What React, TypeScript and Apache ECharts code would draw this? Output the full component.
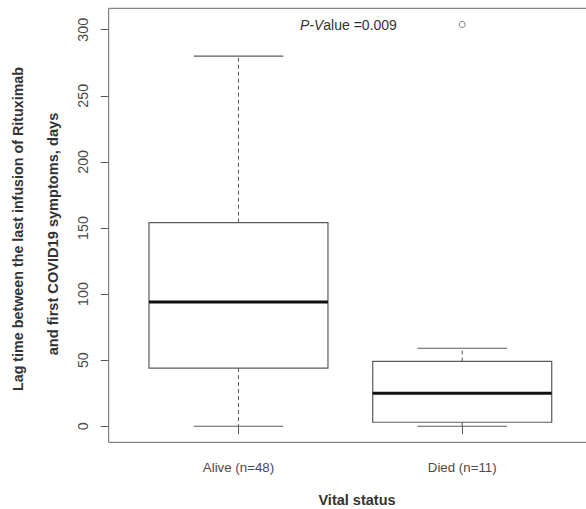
import React, { useEffect, useRef } from "react";
import * as echarts from "echarts";

const categories = ["Alive (n=48)", "Died (n=11)"];
const lowerWhisker = [0, 0];
const lowerQuartile = [44, 3];
const medianValues = [94, 25];
const upperQuartile = [154, 49];
const upperWhisker = [280, 59];
const outlierValues: number[][] = [[], [304]];
const yTicks = [0, 50, 100, 150, 200, 250, 300];
const xTicks = [1, 2];

const FONT = "'Liberation Sans', Arial, sans-serif";
const LINE = "#5a5a5a";
const TEXT = "#4a4a4a";

export default function App() {
  const ref = useRef<HTMLDivElement>(null);
  useEffect(() => {
    document.body.style.margin = "0";
    if (!ref.current) return;
    const chart = echarts.init(ref.current, undefined, { renderer: "svg" });

    const boxData = categories.map((_, i) => [
      i + 1,
      lowerWhisker[i],
      lowerQuartile[i],
      medianValues[i],
      upperQuartile[i],
      upperWhisker[i],
    ]);
    const outlierData: number[][] = [];
    outlierValues.forEach((vals, i) => vals.forEach((v) => outlierData.push([i + 1, v])));

    const option: any = {
      animation: false,
      backgroundColor: "#ffffff",
      grid: {
        left: 108.7,
        top: 8.3,
        width: 483.3,
        height: 434,
        show: true,
        borderColor: "#666666",
        borderWidth: 1,
        backgroundColor: "transparent",
      },
      xAxis: {
        type: "value",
        min: 0.42,
        max: 2.58,
        axisLine: { show: false },
        splitLine: { show: false },
        axisTick: {
          show: true,
          customValues: xTicks,
          length: 8,
          lineStyle: { color: LINE, width: 1 },
        },
        axisLabel: {
          customValues: xTicks,
          formatter: (v: number) => categories[Math.round(v) - 1] ?? "",
          margin: 19,
          fontSize: 13.3,
          color: TEXT,
          fontFamily: FONT,
        },
      },
      yAxis: {
        type: "value",
        min: -12.16,
        max: 316.2,
        axisLine: { show: false },
        splitLine: { show: false },
        axisTick: {
          show: true,
          customValues: yTicks,
          length: 8,
          lineStyle: { color: LINE, width: 1 },
        },
        axisLabel: {
          customValues: yTicks,
          rotate: 90,
          margin: 19,
          fontSize: 14.3,
          color: TEXT,
          fontFamily: FONT,
        },
      },
      series: [
        {
          type: "custom",
          data: boxData,
          encode: { x: 0, y: [1, 2, 3, 4, 5] },
          renderItem: (params: any, api: any) => {
            const x = api.value(0);
            const pLow = api.coord([x, api.value(1)]);
            const pQ1 = api.coord([x, api.value(2)]);
            const pMed = api.coord([x, api.value(3)]);
            const pQ3 = api.coord([x, api.value(4)]);
            const pHigh = api.coord([x, api.value(5)]);
            const bw = api.size([0.8, 0])[0];
            const cw = bw / 2;
            const cx = pMed[0];
            const dashStyle = { stroke: LINE, lineWidth: 1, lineDash: [4, 3] };
            const solid = { stroke: LINE, lineWidth: 1.2 };
            return {
              type: "group",
              children: [
                { type: "line", shape: { x1: cx, y1: pQ3[1], x2: cx, y2: pHigh[1] }, style: dashStyle },
                { type: "line", shape: { x1: cx, y1: pQ1[1], x2: cx, y2: pLow[1] }, style: dashStyle },
                { type: "line", shape: { x1: cx - cw / 2, y1: pHigh[1], x2: cx + cw / 2, y2: pHigh[1] }, style: solid },
                { type: "line", shape: { x1: cx - cw / 2, y1: pLow[1], x2: cx + cw / 2, y2: pLow[1] }, style: solid },
                {
                  type: "rect",
                  shape: { x: cx - bw / 2, y: pQ3[1], width: bw, height: pQ1[1] - pQ3[1] },
                  style: { fill: "#ffffff", stroke: LINE, lineWidth: 1.2 },
                },
                {
                  type: "line",
                  shape: { x1: cx - bw / 2, y1: pMed[1], x2: cx + bw / 2, y2: pMed[1] },
                  style: { stroke: "#111111", lineWidth: 3 },
                },
              ],
            };
          },
        },
        {
          type: "scatter",
          data: outlierData,
          symbol: "circle",
          symbolSize: 6,
          itemStyle: { color: "#ffffff", borderColor: LINE, borderWidth: 1 },
          z: 5,
        },
      ],
      graphic: [
        {
          type: "text",
          x: 18,
          y: 229,
          rotation: Math.PI / 2,
          style: {
            text: "Lag time between the last infusion of Rituximab",
            fontSize: 14.3,
            fontWeight: "bold",
            fontFamily: FONT,
            fill: "#333333",
            textAlign: "center",
            textVerticalAlign: "middle",
          },
        },
        {
          type: "text",
          x: 53,
          y: 234,
          rotation: Math.PI / 2,
          style: {
            text: "and first COVID19 symptoms, days",
            fontSize: 14.6,
            fontWeight: "bold",
            fontFamily: FONT,
            fill: "#333333",
            textAlign: "center",
            textVerticalAlign: "middle",
          },
        },
        {
          type: "text",
          x: 357,
          y: 500,
          style: {
            text: "Vital status",
            fontSize: 14.5,
            fontWeight: "bold",
            fontFamily: FONT,
            fill: "#333333",
            textAlign: "center",
            textVerticalAlign: "middle",
          },
        },
        {
          type: "text",
          x: 300,
          y: 25,
          style: {
            text: "{it|P-V}alue =0.009",
            fontSize: 14,
            fontFamily: FONT,
            fill: "#333333",
            textAlign: "left",
            textVerticalAlign: "middle",
            rich: {
              it: { fontStyle: "italic", fontSize: 14, fontFamily: FONT, fill: "#333333" },
            },
          },
        },
      ],
    };
    chart.setOption(option);
    return () => chart.dispose();
  }, []);
  return (
    <div style={{ width: 586, height: 509, overflow: "hidden", position: "relative" }}>
      <div ref={ref} style={{ width: 600, height: 509 }} />
    </div>
  );
}
